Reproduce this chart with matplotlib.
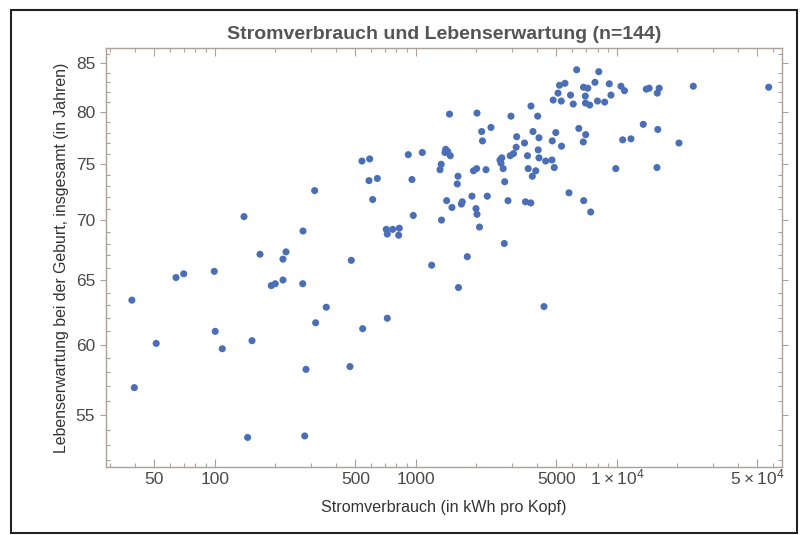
#!/usr/bin/env python3

import numpy as np
from matplotlib import pyplot as plt
from matplotlib.ticker import FixedLocator, LogLocator, NullFormatter
from matplotlib.patches import Rectangle

plt.rcParams['font.family'] = ['Liberation Sans', 'DejaVu Sans']
plt.rcParams['mathtext.fontset'] = 'custom'
plt.rcParams['mathtext.rm'] = 'Liberation Sans'
plt.rcParams['mathtext.default'] = 'regular'

title = 'Stromverbrauch und Lebenserwartung (n=144)'
xlabel = 'Stromverbrauch (in kWh pro Kopf)'
ylabel = 'Lebenserwartung bei der Geburt, insgesamt (in Jahren)'

### Data: electricity use per head in kWh, life expectancy in years
kwh = [38.6, 39.7, 51.0, 64.0, 69.9, 99.2, 100.3, 108.7, 145.4, 152.8,
       167.5, 190.6, 199.5, 217.9, 225.6, 217.9, 273.2, 283.7, 279.5, 316.9,
       357.9, 139.4, 313.3, 274.1, 469.5, 543, 719.8, 476.6, 538.6, 588.5,
       583.7, 642.1, 609.1, 915.6, 1075, 955, 969.6, 711.6, 719.8, 765.6,
       826, 820, 1197, 1340, 1468, 2012, 1405, 1438, 1394, 1481,
       1335, 1317, 1618, 1605, 1421, 1510, 1699, 1684, 1899, 1989,
       2012, 2070, 1800, 1627, 2123, 2142, 2361, 1932, 2004, 2230,
       2263, 2750, 2869, 2763, 2618, 2673, 2648, 2715, 2942, 3055,
       3151, 3170, 2969, 3466, 3734, 4032, 3821, 4092, 4055, 3587,
       4092, 3616, 3945, 3791, 3506, 3725, 4418, 4750, 4876, 4766,
       4961, 4815, 5089, 5296, 4333, 6302, 8120, 5176, 5512, 5283,
       5871, 6061, 6813, 7157, 6956, 6972, 7315, 7772, 7998, 8686,
       9156, 9334, 10469, 10896, 13987, 14460, 16218, 15868, 23966, 56850,
       6457, 6988, 6798, 5770, 6830, 7400, 9863, 10675, 11740, 13512,
       15959, 20344, 15812]
life = [63.4, 56.9, 60.1, 65.2, 65.5, 65.7, 61.0, 59.7, 53.5, 60.3,
        67.1, 64.55, 64.7, 66.7, 67.3, 65.0, 64.7, 58.2, 53.6, 61.65,
        62.85, 70.3, 72.6, 69.06, 58.4, 61.2, 62.0, 66.6, 75.3, 75.5,
        73.5, 73.7, 71.8, 75.9, 76.1, 73.6, 70.4, 69.2, 68.8, 69.2,
        69.3, 68.7, 66.2, 70.0, 79.8, 79.9, 76.4, 76.2, 76.1, 75.8,
        75.0, 74.5, 73.9, 73.2, 71.7, 71.1, 71.6, 71.4, 72.1, 71.0,
        70.5, 69.4, 66.9, 64.4, 78.1, 77.2, 78.5, 74.4, 74.6, 74.5,
        72.1, 68.0, 71.7, 73.4, 75.4, 75.6, 75.1, 74.6, 75.8, 76.0,
        76.6, 77.6, 79.6, 77.0, 80.6, 79.6, 78.1, 77.5, 76.35, 75.8,
        75.6, 74.6, 74.4, 73.9, 71.6, 71.5, 75.3, 75.4, 74.7, 77.2,
        78.0, 81.2, 81.9, 76.7, 62.9, 84.3, 84.1, 82.7, 82.9, 81.1,
        81.7, 80.8, 82.5, 82.4, 81.6, 80.9, 80.7, 83.0, 81.1, 81.0,
        82.85, 81.7, 82.6, 82.15, 82.3, 82.4, 82.4, 81.9, 82.6, 82.5,
        78.4, 77.8, 77.1, 72.4, 71.7, 70.7, 74.6, 77.3, 77.4, 78.8,
        78.3, 77.0, 74.7]

xticks = [50, 100, 500, 1000, 5000, 10000, 50000]
xticklabels = ['50', '100', '500', '1000', '5000', r'$1\times10^{4}$', r'$5\times10^{4}$']
yticks = [55, 60, 65, 70, 75, 80, 85]
yminor = [y for y in range(52, 87) if y % 5 != 0]

dot = '#4a6fb6'
frame = '#aaa29b'
textcol = '#4a4a4a'

### Plot
fig = plt.figure(figsize=(8.05, 5.35), dpi=100)
ax = fig.add_axes((0.1313, 0.1277, 0.8401, 0.7826))
ax.scatter(kwh, life, s=26, color=dot, edgecolors='none', zorder=3)

ax.set_xscale('log')
ax.set_yscale('log')
ax.set_xlim(28.6, 66200)
ax.set_ylim(51.6, 86.6)

ax.xaxis.set_major_locator(FixedLocator(xticks))
ax.set_xticklabels(xticklabels)
ax.xaxis.set_minor_locator(LogLocator(base=10, subs=np.arange(1, 10)))
ax.xaxis.set_minor_formatter(NullFormatter())
ax.yaxis.set_major_locator(FixedLocator(yticks))
ax.set_yticklabels([str(y) for y in yticks])
ax.yaxis.set_minor_locator(FixedLocator(yminor))
ax.yaxis.set_minor_formatter(NullFormatter())

for s in ax.spines.values():
    s.set_color(frame)
    s.set_linewidth(1.0)
ax.tick_params(which='both', direction='in', top=True, right=True, color=frame,
               labelsize=12.5, labelcolor=textcol, width=0.8)
ax.tick_params(which='major', length=6)
ax.tick_params(which='minor', length=3)
ax.tick_params(axis='y', which='major', direction='out', length=4)
# keep the 10^4 labels on the same baseline as the plain numbers
ax.tick_params(axis='x', which='major', pad=12.5)
for lab in ax.get_xticklabels():
    lab.set_verticalalignment('baseline')

fig.text(0.5516, 0.935, title, ha='center', va='center', fontsize=14,
         fontweight='bold', color='#555555')
fig.text(0.5516, 0.052, xlabel, ha='center', va='center', fontsize=11.6, color='#333333')
fig.text(0.077, 0.519, ylabel, ha='center', va='center', rotation=90,
         fontsize=11.4, color='#333333')

fig.patches.append(Rectangle((0.0137, 0.0037), 0.9763, 0.9776, transform=fig.transFigure,
                             fill=False, ec='#222222', lw=1.5))

plt.savefig('out.png', dpi=100)
